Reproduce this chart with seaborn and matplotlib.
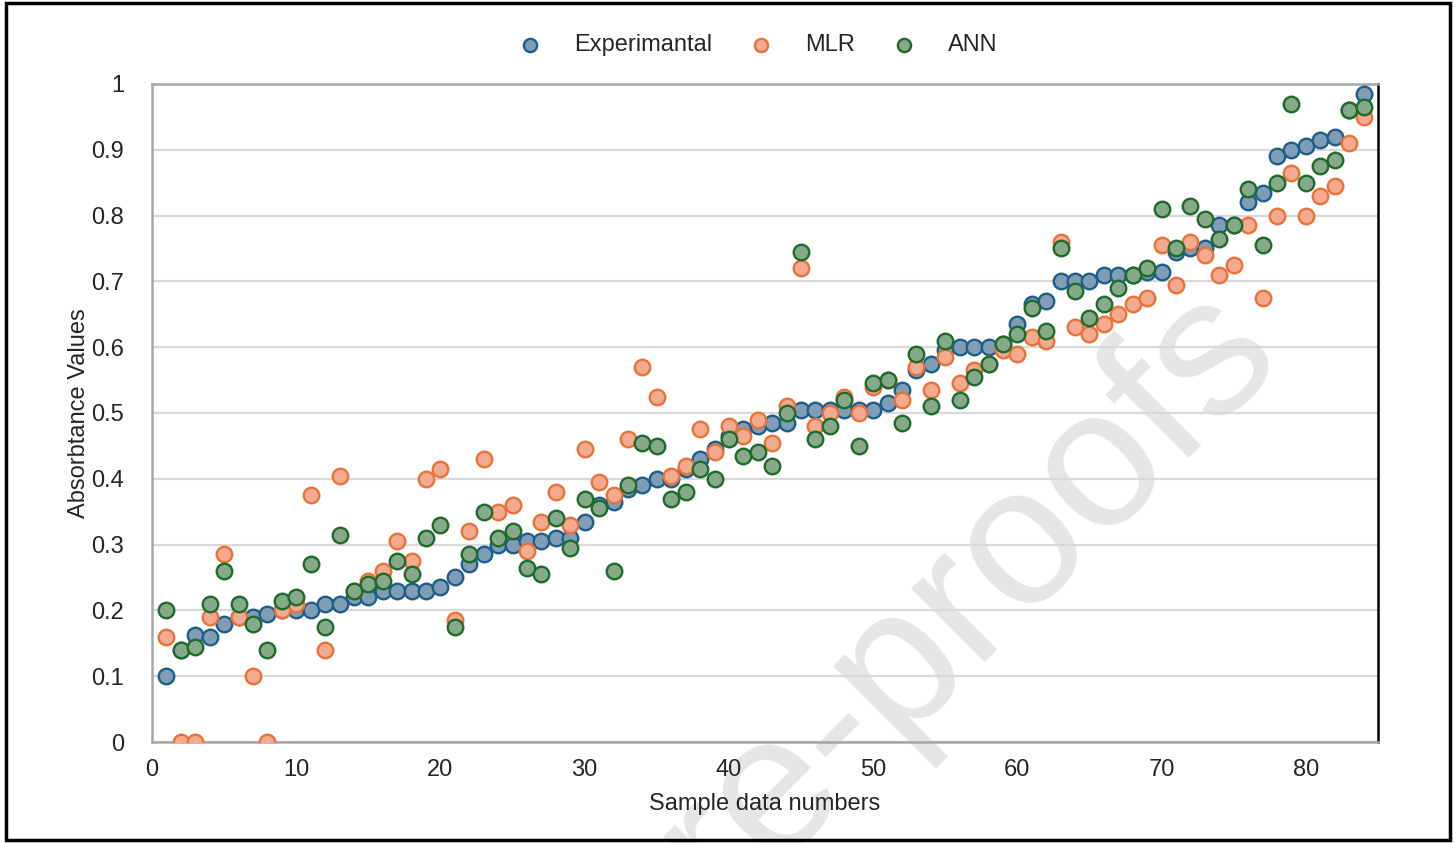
import numpy as np
import pandas as pd
import matplotlib.pyplot as plt
import seaborn as sns
from matplotlib.patches import Rectangle

sample_no = list(range(1, 85))

experimental = [0.10, 0.14, 0.163, 0.16, 0.18, 0.19, 0.19, 0.195, 0.20, 0.20,
                0.20, 0.21, 0.21, 0.22, 0.22, 0.23, 0.23, 0.23, 0.23, 0.235,
                0.25, 0.27, 0.285, 0.30, 0.30, 0.305, 0.305, 0.31, 0.31, 0.335,
                0.36, 0.365, 0.385, 0.39, 0.40, 0.40, 0.415, 0.43, 0.445, 0.465,
                0.475, 0.48, 0.485, 0.485, 0.505, 0.505, 0.505, 0.505, 0.505, 0.505,
                0.515, 0.535, 0.565, 0.575, 0.595, 0.60, 0.60, 0.60, 0.605, 0.635,
                0.665, 0.67, 0.70, 0.70, 0.70, 0.71, 0.71, 0.71, 0.715, 0.715,
                0.745, 0.75, 0.75, 0.785, 0.785, 0.82, 0.835, 0.89, 0.90, 0.905,
                0.915, 0.92, 0.96, 0.985]

mlr = [0.16, 0.0, 0.0, 0.19, 0.285, 0.19, 0.10, 0.0, 0.20, 0.21,
       0.375, 0.14, 0.405, 0.23, 0.245, 0.26, 0.305, 0.275, 0.40, 0.415,
       0.185, 0.32, 0.43, 0.35, 0.36, 0.29, 0.335, 0.38, 0.33, 0.445,
       0.395, 0.375, 0.46, 0.57, 0.525, 0.405, 0.42, 0.475, 0.44, 0.48,
       0.465, 0.49, 0.455, 0.51, 0.72, 0.48, 0.50, 0.525, 0.50, 0.54,
       0.55, 0.52, 0.57, 0.535, 0.585, 0.545, 0.565, 0.575, 0.595, 0.59,
       0.615, 0.61, 0.76, 0.63, 0.62, 0.635, 0.65, 0.665, 0.675, 0.755,
       0.695, 0.76, 0.74, 0.71, 0.725, 0.785, 0.675, 0.80, 0.865, 0.80,
       0.83, 0.845, 0.91, 0.95]

ann = [0.20, 0.14, 0.145, 0.21, 0.26, 0.21, 0.18, 0.14, 0.215, 0.22,
       0.27, 0.175, 0.315, 0.23, 0.24, 0.245, 0.275, 0.255, 0.31, 0.33,
       0.175, 0.285, 0.35, 0.31, 0.32, 0.265, 0.255, 0.34, 0.295, 0.37,
       0.355, 0.26, 0.39, 0.455, 0.45, 0.37, 0.38, 0.415, 0.40, 0.46,
       0.435, 0.44, 0.42, 0.50, 0.745, 0.46, 0.48, 0.52, 0.45, 0.545,
       0.55, 0.485, 0.59, 0.51, 0.61, 0.52, 0.555, 0.575, 0.605, 0.62,
       0.66, 0.625, 0.75, 0.685, 0.645, 0.665, 0.69, 0.71, 0.72, 0.81,
       0.75, 0.815, 0.795, 0.765, 0.785, 0.84, 0.755, 0.85, 0.97, 0.85,
       0.875, 0.885, 0.96, 0.965]

series_names = ["Experimantal", "MLR", "ANN"]
face_cols = ["#7f9db5", "#f3aa8f", "#86a98a"]
edge_cols = ["#1d5e8a", "#e8733a", "#1f6b2c"]

df = pd.DataFrame({
    "Sample data numbers": sample_no * 3,
    "Absorbtance Values": experimental + mlr + ann,
    "Series": [n for n in series_names for _ in sample_no],
})

sns.set_style("white")
plt.rcParams['font.family'] = ['Liberation Sans', 'DejaVu Sans']

fig = plt.figure(figsize=(14.56, 8.43), dpi=100)
ax = fig.add_axes([0.1044, 0.1198, 0.842, 0.7806])
ax.set_facecolor("none")

# watermark, under the points and the axis texts
ax.text(0.883, 0.571, "Journal Pre-proofs", transform=fig.transFigure, fontsize=142,
        color="#e6e6e6", rotation=45, rotation_mode="anchor", ha="right",
        va="baseline", zorder=0.5, clip_on=False)

for name, fc, ec in zip(series_names, face_cols, edge_cols):
    sns.scatterplot(data=df[df["Series"] == name], x="Sample data numbers",
                    y="Absorbtance Values", ax=ax, color=fc, edgecolor=ec,
                    linewidth=1.7, s=125, label=name, zorder=3)

ax.set_xlim(0, 85)
ax.set_ylim(0, 1)
ax.set_xticks([0, 10, 20, 30, 40, 50, 60, 70, 80])
ax.set_yticks(np.arange(0, 1.01, 0.1))
ax.set_yticklabels(["0", "0.1", "0.2", "0.3", "0.4", "0.5", "0.6", "0.7", "0.8", "0.9", "1"])
ax.yaxis.grid(True, color="#d9d9d9", linewidth=1.6)
ax.xaxis.grid(False)
ax.set_axisbelow(True)
ax.tick_params(axis="both", length=0, labelsize=17)
ax.tick_params(axis="y", pad=20)
ax.tick_params(axis="x", pad=12)
ax.set_xlabel("Sample data numbers", fontsize=17, labelpad=9)
ax.set_ylabel("Absorbtance Values", fontsize=17, labelpad=1)

for side in ["left", "bottom", "top"]:
    ax.spines[side].set_color("#a6a6a6")
    ax.spines[side].set_linewidth(1.8)
ax.spines["right"].set_color("black")
ax.spines["right"].set_linewidth(1.8)

ax.legend(loc="upper center", bbox_to_anchor=(0.5165, 0.985), bbox_transform=fig.transFigure,
          ncol=3, frameon=False, fontsize=17, markerscale=0.85,
          handletextpad=0.86, columnspacing=1.08)

fig.patches.append(Rectangle((0.004, 0.004), 0.992, 0.992, transform=fig.transFigure,
                             fill=False, edgecolor="black", linewidth=2.5))

fig.savefig("out.png", dpi=100)
